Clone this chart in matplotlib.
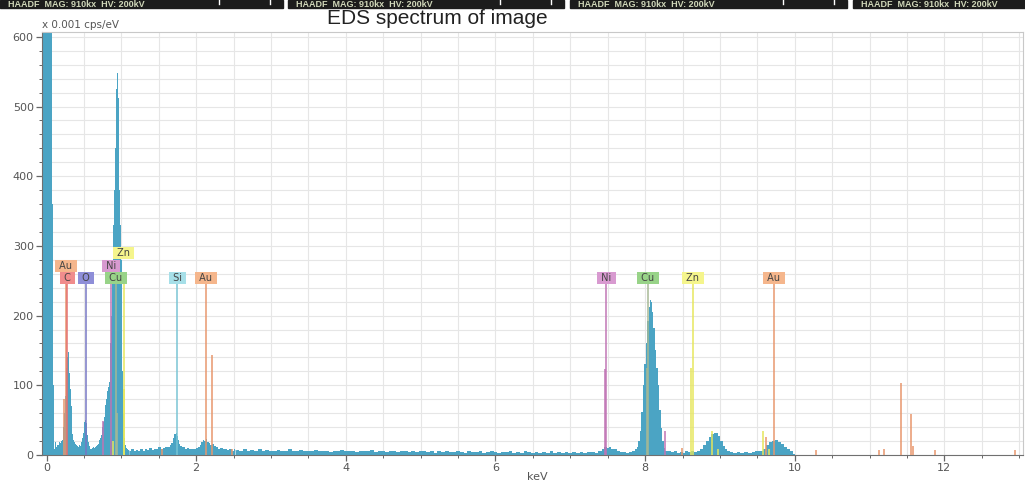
import matplotlib.pyplot as plt
import numpy as np
from matplotlib.ticker import MultipleLocator

# spectrum, low energy part (keV, counts x 0.001 cps/eV)
low_e = [-0.06, -0.055, 0.0, 0.05, 0.075, 0.08, 0.09, 0.10, 0.11, 0.12, 0.13, 0.14, 0.15,
         0.16, 0.17, 0.18, 0.19, 0.20, 0.21, 0.22, 0.23, 0.24, 0.25, 0.26, 0.27, 0.28,
         0.29, 0.30, 0.31, 0.32, 0.33, 0.34, 0.35, 0.36, 0.37, 0.38, 0.39, 0.40, 0.41,
         0.42, 0.43, 0.44, 0.45, 0.46, 0.47, 0.48, 0.49, 0.50, 0.51, 0.52, 0.53, 0.54,
         0.55, 0.56, 0.57, 0.58, 0.59, 0.60, 0.61, 0.62, 0.63, 0.64, 0.65, 0.66, 0.67,
         0.68, 0.69, 0.70, 0.71, 0.72, 0.73, 0.74, 0.75, 0.76, 0.77, 0.78, 0.79, 0.80,
         0.81, 0.82, 0.83, 0.84, 0.85, 0.86, 0.87, 0.88, 0.89, 0.90, 0.91, 0.92, 0.93,
         0.94, 0.95, 0.96, 0.97, 0.98, 0.99, 1.00, 1.01, 1.02, 1.03, 1.04, 1.05, 1.06,
         1.07, 1.08, 1.09, 1.10]
low_c = [440, 2500, 2600, 2400, 1800, 360, 100, 20, 8, 18, 12, 20, 15,
         14, 18, 16, 17, 20, 22, 28, 40, 60, 85, 105, 125, 140,
         148, 126, 118, 95, 70, 45, 30, 22, 18, 15, 16, 14, 13,
         15, 12, 14, 13, 15, 18, 24, 32, 42, 48, 50, 46, 38,
         28, 18, 13, 10, 9, 8, 10, 9, 11, 10, 12, 11, 13,
         15, 16, 18, 21, 25, 28, 34, 40, 48, 55, 64, 72, 80,
         88, 92, 98, 104, 125, 160, 200, 245, 290, 330, 380, 440, 500,
         525, 548, 512, 445, 380, 330, 280, 200, 120, 60, 25, 18, 14,
         10, 8, 9, 7]

# Si K and Au M region
mid_e = [1.12, 1.15, 1.18, 1.21, 1.24, 1.27, 1.30, 1.33, 1.36, 1.39, 1.42, 1.45, 1.48,
         1.51, 1.54, 1.57, 1.60, 1.63, 1.66, 1.68, 1.70, 1.72, 1.73, 1.74, 1.75, 1.76,
         1.78, 1.80, 1.83, 1.86, 1.89, 1.92, 1.95, 1.98, 2.01, 2.04, 2.06, 2.08, 2.10,
         2.12, 2.14, 2.16, 2.18, 2.20, 2.22, 2.25, 2.28, 2.31, 2.34, 2.37, 2.40, 2.43,
         2.46, 2.49, 2.52]
mid_c = [6, 8, 5, 7, 6, 9, 6, 8, 7, 10, 7, 9, 8,
         11, 9, 10, 12, 11, 14, 17, 24, 30, 33, 31, 27, 22,
         16, 13, 11, 9, 10, 8, 9, 8, 10, 12, 15, 19, 22,
         20, 23, 18, 17, 15, 16, 13, 12, 9, 10, 8, 9, 7,
         8, 6, 8]

# flat background 2.55 - 7.25 keV, 0.05 keV steps
bg_e = np.round(np.arange(2.55, 7.26, 0.05), 2)
bg_c = [7, 6, 8, 5, 7, 6, 8, 6, 7, 5,
        6, 7, 5, 6, 8, 5, 6, 7, 5, 6,
        5, 7, 6, 5, 6, 4, 6, 5, 7, 5,
        5, 6, 4, 6, 5, 5, 7, 4, 5, 6,
        4, 5, 6, 4, 5, 5, 4, 6, 4, 5,
        5, 4, 5, 3, 5, 4, 6, 4, 4, 5,
        4, 3, 5, 4, 4, 5, 3, 4, 5, 4,
        3, 4, 4, 5, 3, 4, 3, 5, 4, 3,
        4, 3, 4, 3, 5, 3, 4, 3, 4, 3,
        4, 3, 4, 3, 4]

# Ni K, Cu K, Zn K, Au L region
high_e = [7.30, 7.35, 7.40, 7.44, 7.47, 7.50, 7.53, 7.56, 7.60, 7.64, 7.68, 7.72, 7.76,
          7.80, 7.84, 7.88, 7.90, 7.92, 7.94, 7.96, 7.98, 8.00, 8.02, 8.04, 8.06, 8.07,
          8.08, 8.09, 8.10, 8.12, 8.14, 8.16, 8.18, 8.20, 8.22, 8.24, 8.26, 8.28, 8.32,
          8.36, 8.40, 8.44, 8.48, 8.52, 8.56, 8.60, 8.64, 8.68, 8.72, 8.76, 8.80, 8.84,
          8.87, 8.90, 8.93, 8.96, 8.99, 9.02, 9.05, 9.08, 9.12, 9.16, 9.20, 9.25, 9.30,
          9.35, 9.40, 9.45, 9.50, 9.55, 9.60, 9.64, 9.68, 9.72, 9.76, 9.80, 9.84, 9.88,
          9.92, 9.96, 10.00, 10.02]
high_c = [4, 3, 6, 9, 12, 10, 11, 9, 8, 6, 4, 4, 3,
          4, 5, 8, 12, 20, 35, 62, 100, 130, 160, 192, 212, 222,
          218, 220, 205, 182, 150, 125, 100, 65, 38, 20, 10, 6, 5,
          4, 5, 3, 4, 3, 5, 4, 6, 4, 6, 9, 14, 20,
          26, 30, 32, 31, 27, 20, 13, 8, 5, 4, 3, 4, 3,
          4, 3, 4, 5, 6, 9, 14, 18, 20, 22, 19, 16, 12,
          8, 5, 2, 0]

# element markers: name, energy, label row
elements = ['Au', 'C', 'O', 'Ni', 'Cu', 'Zn', 'Si', 'Au', 'Ni', 'Cu', 'Zn', 'Au']
elem_energy = [0.26, 0.28, 0.53, 0.86, 0.93, 1.03, 1.75, 2.13, 7.48, 8.04, 8.64, 9.72]
elem_row = [1, 0, 0, 1, 0, 2, 0, 0, 0, 0, 0, 0]
marker_height = 245
row_y = [254, 271, 290]

# secondary lines: element, energy, height
extra_elem = ['Au', 'Ni', 'Cu', 'Zn', 'Zn', 'Au', 'Au', 'Au',
              'Ni', 'Cu', 'Ni', 'Au', 'Zn', 'Zn', 'Zn', 'Zn', 'Au', 'Zn',
              'Au', 'Au', 'Au', 'Au', 'Au', 'Au', 'Au', 'Au']
extra_energy = [0.24, 0.75, 0.945, 1.04, 0.89, 2.21, 1.55, 2.48,
                7.46, 8.02, 8.27, 8.49, 8.62, 8.90, 8.97, 9.57, 9.62, 9.65,
                10.28, 11.12, 11.19, 11.42, 11.55, 11.58, 11.88, 12.95]
extra_height = [80, 49, 60, 95, 20, 144, 8, 8,
                124, 125, 35, 10, 125, 35, 8, 35, 26, 8,
                7, 7, 9, 103, 59, 13, 7, 7]

box_colors = {'Au': '#f5b68c', 'C': '#f08c8c', 'O': '#8e8ed8', 'Ni': '#d89ad0',
              'Cu': '#98d388', 'Zn': '#f5f58c', 'Si': '#a6dfe8'}
line_colors = {'Au': '#e8966c', 'C': '#e57070', 'O': '#7676c4', 'Ni': '#c074b4',
               'Cu': '#a6b894', 'Zn': '#e6e65a', 'Si': '#78c4d4'}

spec_color = '#4ba4c4'

fig = plt.figure(figsize=(10.25, 4.84), dpi=100)
ax = fig.add_axes([0.041, 0.060, 0.957, 0.874])

ax.set_xlim(-0.06, 13.05)
ax.set_ylim(0, 607)
ax.xaxis.set_major_locator(MultipleLocator(2))
ax.xaxis.set_minor_locator(MultipleLocator(0.5))
ax.yaxis.set_major_locator(MultipleLocator(100))
ax.yaxis.set_minor_locator(MultipleLocator(20))
ax.grid(which='both', color='#e6e6e6', lw=0.8)
ax.set_axisbelow(True)
ax.tick_params(which='both', colors='#666666', labelsize=8, labelcolor='#555555', pad=2)
ax.tick_params(which='major', length=4, width=0.9)
ax.tick_params(which='minor', length=2.5, width=0.7)
for side in ['left', 'bottom']:
    ax.spines[side].set_color('#707070')
for side in ['top', 'right']:
    ax.spines[side].set_color('#c8c8c8')

# spectrum
for e, c in [(low_e, low_c), (mid_e, mid_c), (bg_e, bg_c), (high_e, high_c)]:
    ax.fill_between(e, 0, c, step='mid', color=spec_color, lw=0, zorder=2)
# join the segments
join_e = [low_e[-1], mid_e[0], mid_e[-1], bg_e[0], bg_e[-1], high_e[0]]
join_c = [low_c[-1], mid_c[0], mid_c[-1], bg_c[0], bg_c[-1], high_c[0]]
for i in range(0, len(join_e), 2):
    ax.fill_between(join_e[i:i + 2], 0, join_c[i:i + 2], color=spec_color, lw=0, zorder=2)

# secondary lines
for el, e, h in zip(extra_elem, extra_energy, extra_height):
    ax.vlines(e, 0, h, color=line_colors[el], lw=1.1, zorder=3)

# marker lines and labels
for el, e, r in zip(elements, elem_energy, elem_row):
    ax.vlines(e, 0, marker_height, color=line_colors[el], lw=1.2, zorder=3, alpha=0.9)
    ax.text(e, row_y[r], ' ' + el + ' ', ha='center', va='center', fontsize=7,
            color='#444444', zorder=4,
            bbox=dict(boxstyle='square,pad=0.12', fc=box_colors[el], ec='none'))

fig.text(0.524, 1 - 477 / 484, 'keV', fontsize=8, color='#555555', ha='center', va='center')
fig.text(0.041, 0.948, 'x 0.001 cps/eV', fontsize=7.5, color='#555555', va='center')
fig.text(0.427, 0.962, 'EDS spectrum of image', fontsize=15, color='#222222',
         ha='center', va='center', family='Liberation Sans')

# image header strips along the top edge
strips = [(0, 283), (288, 564), (570, 847), (853, 1025)]
for x0, x1 in strips:
    fig.patches.append(plt.Rectangle((x0 / 1025, 1 - 7.5 / 484), (x1 - x0) / 1025, 7.5 / 484,
                                     transform=fig.transFigure, color='#1c1c1c'))
    fig.text((x0 + 8) / 1025, 1 - 7 / 484, 'HAADF  MAG: 910kx  HV: 200kV', fontsize=6.5,
             weight='bold', family='Liberation Sans', color='#cfd6b8', va='baseline')
    for tx in [x1 - 64, x1 - 13]:
        if tx > x0 + 200:
            fig.lines.append(plt.Line2D([tx / 1025, tx / 1025], [1 - 4 / 484, 1],
                                        transform=fig.transFigure, color='white', lw=1))

fig.savefig('out.png', dpi=100)
